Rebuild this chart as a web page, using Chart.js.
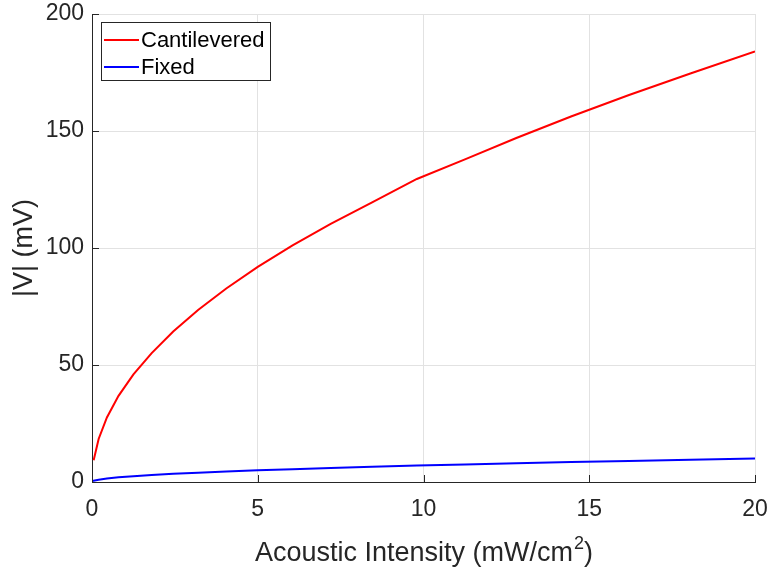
<!DOCTYPE html>
<html>
<head>
<meta charset="utf-8">
<script src="https://cdn.jsdelivr.net/npm/chart.js@4/dist/chart.umd.min.js"></script>
<style>
  html, body { margin: 0; padding: 0; background: #fff; }
  #wrap { width: 772px; height: 569px; }
</style>
</head>
<body>
<div id="wrap"><canvas id="c" width="772" height="569"></canvas></div>
<script>
// data
const cantX = [0.05, 0.2, 0.45, 0.8, 1.25, 1.8, 2.45, 3.2, 4.05, 5, 6.05, 7.2, 8.45, 9.8, 11.25, 12.8, 14.45, 16.2, 18.05, 20];
const cantV = [9.3, 18.4, 27.6, 36.8, 46, 55.1, 64.3, 73.5, 82.7, 91.9, 101.1, 110.3, 119.5, 129.5, 137.9, 147, 156.2, 165.4, 174.6, 184];
const fixX = [0, 0.2, 0.45, 0.8, 1.25, 1.8, 2.45, 3.2, 4.05, 5, 6.05, 7.2, 8.45, 9.8, 11.25, 12.8, 14.45, 16.2, 18.05, 20];
const fixV = [0.4, 1.0, 1.5, 2.0, 2.5, 3.0, 3.5, 4.0, 4.5, 5.0, 5.5, 6.0, 6.5, 7.0, 7.5, 8.0, 8.5, 9.0, 9.5, 10.0];
const xTicks = [0, 5, 10, 15, 20];
const yTicks = [0, 50, 100, 150, 200];

const ink = "#262626";
const FONT = "'Liberation Sans', Arial, sans-serif";

function pts(xs, ys) {
  return xs.map((x, i) => ({ x: x, y: ys[i] }));
}

// titles, legend and inward tick marks, MATLAB style
const decor = {
  id: "decor",
  afterDraw(chart) {
    const ctx = chart.ctx;
    const a = chart.chartArea;
    const xs = chart.scales.x, ys = chart.scales.y;
    ctx.save();

    // inward ticks
    ctx.strokeStyle = ink;
    ctx.lineWidth = 1;
    ctx.beginPath();
    xTicks.forEach(t => {
      const px = Math.round(xs.getPixelForValue(t)) + 0.5;
      ctx.moveTo(px, a.bottom); ctx.lineTo(px, a.bottom - 7);
    });
    yTicks.forEach(t => {
      const py = Math.round(ys.getPixelForValue(t)) + 0.5;
      ctx.moveTo(a.left, py); ctx.lineTo(a.left + 7, py);
    });
    ctx.stroke();

    // x title with superscript
    ctx.fillStyle = ink;
    ctx.textBaseline = "alphabetic";
    const main = "Acoustic Intensity (mW/cm", sup = "2", tail = ")";
    ctx.font = "27px " + FONT;
    const w1 = ctx.measureText(main).width, w3 = ctx.measureText(tail).width;
    ctx.font = "18px " + FONT;
    const w2 = ctx.measureText(sup).width;
    let x0 = (a.left + a.right) / 2 - (w1 + w2 + w3) / 2;
    const by = 561;
    ctx.textAlign = "left";
    ctx.font = "27px " + FONT;
    ctx.fillText(main, x0, by);
    ctx.font = "18px " + FONT;
    ctx.fillText(sup, x0 + w1 + 1, by - 12);
    ctx.font = "27px " + FONT;
    ctx.fillText(tail, x0 + w1 + w2 + 1, by);

    // y title
    ctx.save();
    ctx.translate(32, (a.top + a.bottom) / 2);
    ctx.rotate(-Math.PI / 2);
    ctx.textAlign = "center";
    ctx.fillText("|V| (mV)", 0, 0);
    ctx.restore();

    // legend
    const lx = 101.5, ly = 22.5, lw = 169, lh = 58;
    ctx.fillStyle = "#fff";
    ctx.fillRect(lx, ly, lw, lh);
    ctx.strokeStyle = ink;
    ctx.lineWidth = 1;
    ctx.strokeRect(lx, ly, lw, lh);
    ctx.font = "22px " + FONT;
    ctx.textBaseline = "middle";
    chart.data.datasets.forEach((ds, i) => {
      const yy = 40 + i * 27;
      ctx.strokeStyle = ds.borderColor;
      ctx.lineWidth = 2;
      ctx.beginPath();
      ctx.moveTo(104, yy); ctx.lineTo(139, yy);
      ctx.stroke();
      ctx.fillStyle = "#000";
      ctx.fillText(ds.label, 141, yy + 1);
    });
    ctx.restore();
  }
};

new Chart(document.getElementById("c"), {
  type: "line",
  data: {
    datasets: [
      { label: "Cantilevered", data: pts(cantX, cantV), borderColor: "#ff0000", borderWidth: 2, pointRadius: 0, tension: 0 },
      { label: "Fixed", data: pts(fixX, fixV), borderColor: "#0000ff", borderWidth: 2, pointRadius: 0, tension: 0 }
    ]
  },
  options: {
    responsive: false,
    animation: false,
    layout: { padding: { left: 0, right: 17, top: 14, bottom: 0 } },
    plugins: { legend: { display: false }, tooltip: { enabled: false } },
    scales: {
      x: {
        type: "linear", min: 0, max: 20,
        afterBuildTicks: s => { s.ticks = xTicks.map(v => ({ value: v })); },
        afterFit: s => { s.height = 87; s.paddingLeft = 0; s.paddingRight = 0; },
        ticks: { color: ink, font: { family: FONT, size: 23 }, padding: 14, maxRotation: 0 },
        grid: { color: "#e2e2e2", drawTicks: false },
        border: { color: ink, width: 1 }
      },
      y: {
        type: "linear", min: 0, max: 200,
        afterBuildTicks: s => { s.ticks = yTicks.map(v => ({ value: v })); },
        afterFit: s => { s.width = 92; s.paddingTop = 0; s.paddingBottom = 0; },
        ticks: { color: ink, font: { family: FONT, size: 23 }, padding: 8 },
        grid: { color: "#e2e2e2", drawTicks: false },
        border: { color: ink, width: 1 }
      }
    }
  },
  plugins: [decor]
});
</script>
</body>
</html>
